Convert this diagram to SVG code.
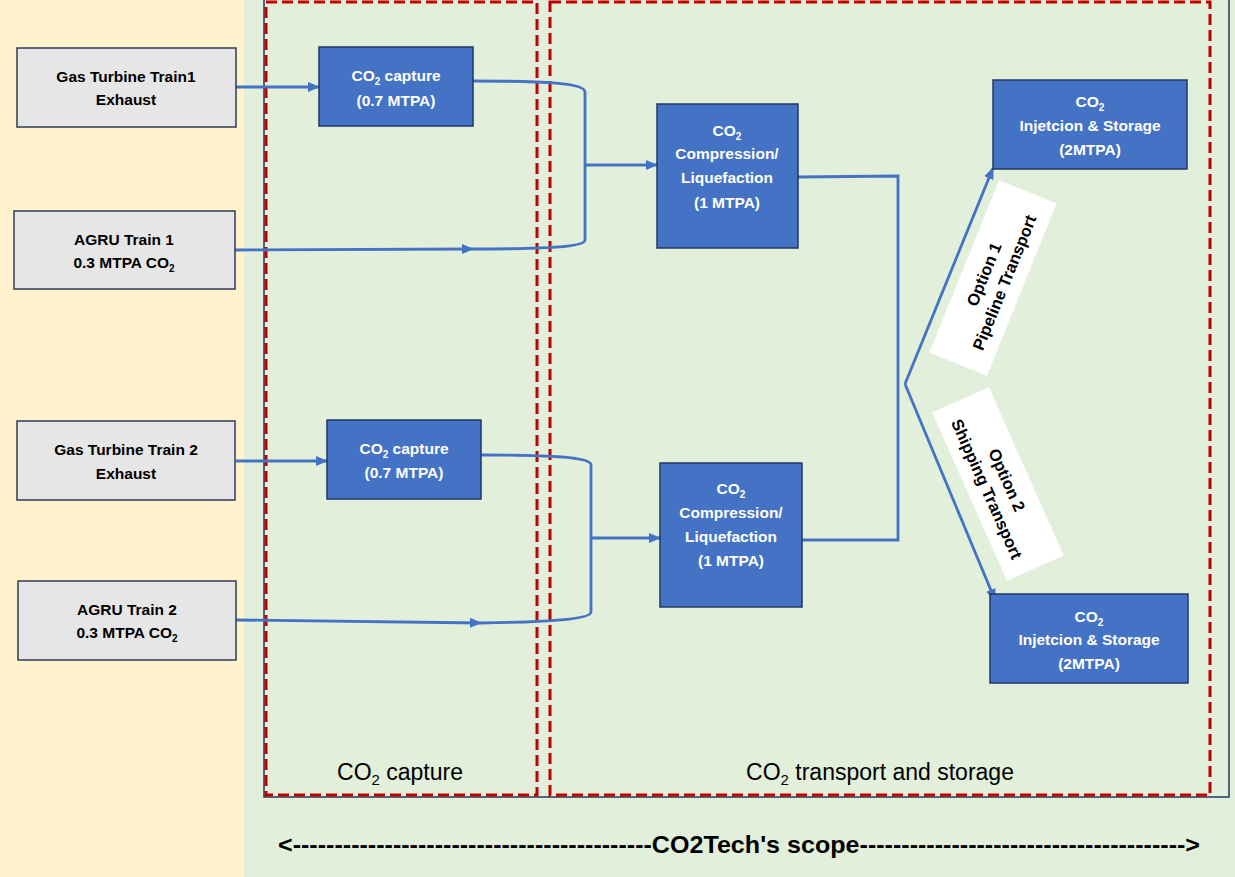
<svg xmlns="http://www.w3.org/2000/svg" width="1235" height="877" viewBox="0 0 1235 877">
<style>
.src rect{fill:#E7E6E6;stroke:#2F3B56;stroke-width:1.5}
.blue rect{fill:#4472C4;stroke:#203864;stroke-width:1.5}
.src text{font-family:"Liberation Sans",Arial,sans-serif;font-weight:bold;font-size:15.5px;fill:#000;text-anchor:middle}
.blue text{font-family:"Liberation Sans",Arial,sans-serif;font-weight:bold;font-size:15.5px;fill:#fff;text-anchor:middle}
.opt text{font-family:"Liberation Sans",Arial,sans-serif;font-weight:bold;font-size:16.5px;fill:#000;text-anchor:middle}
.sub{font-size:10px}
.zone{fill:none;stroke:#C00000;stroke-width:3;stroke-dasharray:11,5}
.conn path{fill:none;stroke:#4472C4;stroke-width:2.8}
.lbl{font-family:"Liberation Sans",Arial,sans-serif;font-size:23px;fill:#000;text-anchor:middle}
</style>
<defs>
<marker id="arr" markerUnits="userSpaceOnUse" markerWidth="12" markerHeight="12" viewBox="0 0 12 12" refX="11" refY="6" orient="auto">
<path d="M0,1 L12,6 L0,11 Z" fill="#4472C4"/>
</marker>
</defs>
<rect x="0" y="0" width="244" height="877" fill="#FFF2CC"/>
<rect x="244" y="0" width="991" height="877" fill="#E2EFDA"/>
<path d="M264,0 L264,797 L1229,797 L1229,0" fill="none" stroke="#203864" stroke-width="1.5"/>
<rect class="zone" x="266" y="2" width="271" height="793"/>
<rect class="zone" x="550" y="2" width="660" height="793"/>
<text class="lbl" x="400" y="780">CO<tspan font-size="15" dy="5">2</tspan><tspan dy="-5"> capture</tspan></text>
<text class="lbl" x="880" y="780">CO<tspan font-size="15" dy="5">2</tspan><tspan dy="-5"> transport and storage</tspan></text>
<text x="278" y="853" textLength="922" lengthAdjust="spacingAndGlyphs" font-family="'Liberation Sans',Arial,sans-serif" font-weight="bold" font-size="24" fill="#000">&lt;-------------------------------------------CO2Tech's scope---------------------------------------&gt;</text>

<g class="conn" id="connectors">
<path d="M236,87 L319,87" marker-end="url(#arr)"/>
<path d="M235,250 L473,249" marker-end="url(#arr)"/>
<path d="M473,81 C545,81 585,83 585,92 L585,240 C585,247 545,249 473,249" stroke-width="3.2"/>
<path d="M585,165 L657,165" marker-end="url(#arr)"/>
<path d="M236,461 L327,461" marker-end="url(#arr)"/>
<path d="M236,620 L481,623" marker-end="url(#arr)"/>
<path d="M481,455 C550,455 591,457 591,465 L591,612 C591,619 550,622 481,623" stroke-width="3.2"/>
<path d="M591,538 L660,538" marker-end="url(#arr)"/>
<path d="M798,177 L898,176 L898,540 L802,540" stroke-width="3.2"/>
<path d="M905,384 L993,168" stroke-width="3.2" marker-end="url(#arr)"/>
<path d="M905,384 L995,600" stroke-width="3.2" marker-end="url(#arr)"/>
</g>

<g id="gt1" class="src"><rect x="17" y="48" width="219" height="79"/><text x="126" y="82">Gas Turbine Train1</text><text x="126" y="105">Exhaust</text></g>
<g id="agru1" class="src"><rect x="14" y="211" width="221" height="78"/><text x="124" y="245">AGRU Train 1</text><text x="124" y="268">0.3 MTPA CO<tspan class="sub" dy="4">2</tspan></text></g>
<g id="gt2" class="src"><rect x="17" y="421" width="218" height="79"/><text x="126" y="455">Gas Turbine Train 2</text><text x="126" y="479">Exhaust</text></g>
<g id="agru2" class="src"><rect x="18" y="581" width="218" height="79"/><text x="127" y="615">AGRU Train 2</text><text x="127" y="638">0.3 MTPA CO<tspan class="sub" dy="4">2</tspan></text></g>

<g id="cap1" class="blue"><rect x="319" y="47" width="154" height="79"/><text x="396" y="81">CO<tspan class="sub" dy="4">2</tspan><tspan dy="-4"> capture</tspan></text><text x="396" y="106">(0.7 MTPA)</text></g>
<g id="cap2" class="blue"><rect x="327" y="420" width="154" height="79"/><text x="404" y="454">CO<tspan class="sub" dy="4">2</tspan><tspan dy="-4"> capture</tspan></text><text x="404" y="478">(0.7 MTPA)</text></g>

<g id="comp1" class="blue"><rect x="657" y="104" width="141" height="144"/><text x="727" y="136">CO<tspan class="sub" dy="4">2</tspan></text><text x="727" y="159">Compression/</text><text x="727" y="183">Liquefaction</text><text x="727" y="208">(1 MTPA)</text></g>
<g id="comp2" class="blue"><rect x="660" y="463" width="142" height="144"/><text x="731" y="494">CO<tspan class="sub" dy="4">2</tspan></text><text x="731" y="518">Compression/</text><text x="731" y="542">Liquefaction</text><text x="731" y="566">(1 MTPA)</text></g>

<g id="inj1" class="blue"><rect x="993" y="80" width="194" height="89"/><text x="1090" y="107">CO<tspan class="sub" dy="4">2</tspan></text><text x="1090" y="131">Injetcion &amp; Storage</text><text x="1090" y="155">(2MTPA)</text></g>
<g id="inj2" class="blue"><rect x="990" y="594" width="198" height="89"/><text x="1089" y="622">CO<tspan class="sub" dy="4">2</tspan></text><text x="1089" y="645">Injetcion &amp; Storage</text><text x="1089" y="669">(2MTPA)</text></g>

<g id="opt1" class="opt" transform="translate(993,278) rotate(-68)"><rect x="-93" y="-31" width="186" height="62" fill="#fff"/><text x="0" y="-4">Option 1</text><text x="0" y="18">Pipeline Transport</text></g>
<g id="opt2" class="opt" transform="translate(998,484) rotate(66)"><rect x="-92" y="-31" width="184" height="62" fill="#fff"/><text x="0" y="-4">Option 2</text><text x="0" y="18">Shipping  Transport</text></g>
</svg>
